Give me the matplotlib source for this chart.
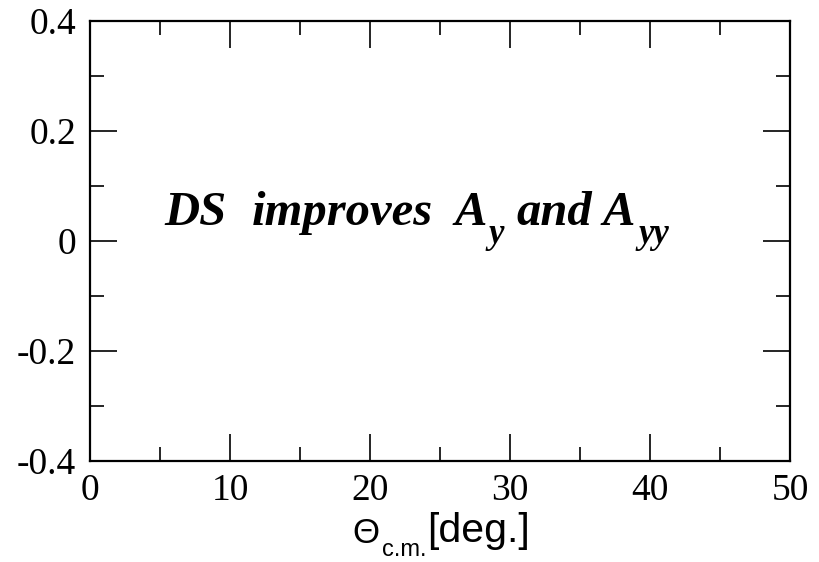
import numpy as np
import matplotlib
matplotlib.use("Agg")
import matplotlib.pyplot as plt
from matplotlib.ticker import FixedLocator, FixedFormatter

# axis setup
x_range = [0, 50]
y_range = [-0.4, 0.4]
x_major = [0, 10, 20, 30, 40, 50]
x_minor = [5, 15, 25, 35, 45]
y_major = [-0.4, -0.2, 0.0, 0.2, 0.4]
y_minor = [-0.3, -0.1, 0.1, 0.3]
x_labels = ["0", "10", "20", "30", "40", "50"]
y_labels = ["-0.4", "-0.2", "0", "0.2", "0.4"]

W, H = 819, 562
fig = plt.figure(figsize=(W / 100, H / 100), dpi=100)
ax = fig.add_axes([90 / W, 1 - 461 / H, 700 / W, 440 / H])

ax.set_xlim(*x_range)
ax.set_ylim(*y_range)
ax.xaxis.set_major_locator(FixedLocator(x_major))
ax.xaxis.set_minor_locator(FixedLocator(x_minor))
ax.yaxis.set_major_locator(FixedLocator(y_major))
ax.yaxis.set_minor_locator(FixedLocator(y_minor))
ax.xaxis.set_major_formatter(FixedFormatter(x_labels))
ax.yaxis.set_major_formatter(FixedFormatter(y_labels))

for s in ax.spines.values():
    s.set_linewidth(1.6)
ax.tick_params(which="both", direction="in", top=True, right=True, width=1.2)
ax.tick_params(which="major", length=19.5)
ax.tick_params(which="minor", length=10)
ax.tick_params(axis="x", which="major", pad=9)
ax.tick_params(axis="y", which="major", pad=10)
for lab in ax.get_xticklabels() + ax.get_yticklabels():
    lab.set_family("Liberation Serif")
    lab.set_fontsize(27)


def put(txt, x, y, size, **kw):
    # place text by pixel position (left edge, baseline from top)
    fig.text(x / W, 1 - y / H, txt, fontsize=size, ha="left", va="baseline", **kw)


# annotation inside the frame
serif = dict(family="Liberation Serif", weight="bold", style="italic")
put("DS", 164, 225, 35, **serif)
put("improves", 252, 225, 35, **serif)
put("A", 455, 225, 35, **serif)
put("y", 488, 243, 25, **serif)
put("and", 516, 225, 35, **serif)
put("A", 603, 225, 35, **serif)
put("yy", 638, 243, 25, **serif)

# x axis title
sans = dict(family="Liberation Sans")
put("\u0398", 352, 543, 25, **sans)
put("c.m.", 382, 556, 17, **sans)
put("[deg.]", 427, 542, 29.5, **sans)

fig.savefig("out.png", dpi=100)
